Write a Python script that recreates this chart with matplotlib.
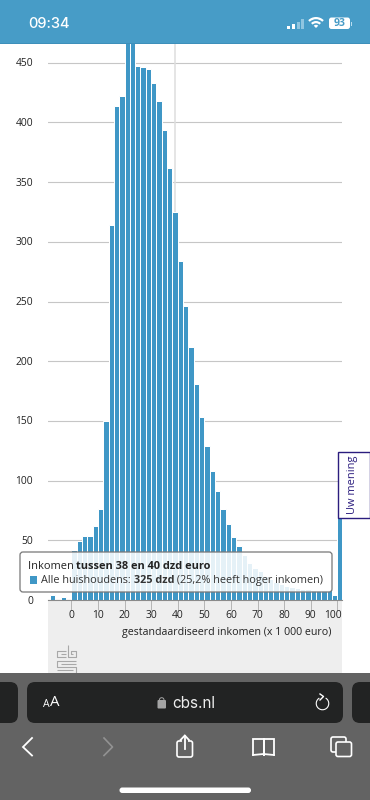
import matplotlib
matplotlib.use('Agg')
import matplotlib.pyplot as plt
from matplotlib.patches import FancyBboxPatch, Rectangle, Wedge

plt.rcParams['font.family'] = ['Open Sans', 'DejaVu Sans']

bin_centers = [-7, -5, -3, -1, 1, 3, 5, 7, 9, 11, 13, 15, 17, 19, 21, 23, 25, 27, 29, 31, 33,
               35, 37, 39, 41, 43, 45, 47, 49, 51, 53, 55, 57, 59, 61, 63, 65, 67, 69, 71,
               73, 75, 77, 79, 81, 83, 85, 87, 89, 91, 93, 95, 97, 99, 101]
households = [4, 0, 2.5, 0, 42, 49, 54, 54, 62, 76, 150, 314, 414, 422, 480, 490, 447, 446, 445,
              433, 418, 394, 362, 325, 284, 246, 212, 181, 153, 129, 108, 91, 76, 64, 53, 45,
              38, 31, 27, 24, 20, 18, 15, 13, 12, 11, 10, 9, 9, 8, 8, 8, 8, 4, 90]
y_ticks = [0, 50, 100, 150, 200, 250, 300, 350, 400, 450]
x_ticks = [0, 10, 20, 30, 40, 50, 60, 70, 80, 90, 100]

W, H = 370, 800
BLUE = '#3f97c6'
DARK = '#222222'

fig = plt.figure(figsize=(3.7, 8), dpi=100, facecolor='white')

# chart axes, placed in screen pixels
left, right, top, bottom = 47.5, 342, 44, 600
ax = fig.add_axes([left / W, 1 - bottom / H, (right - left) / W, (bottom - top) / H])
ax.set_xlim((left - 71.3) / 2.66, (right - 71.3) / 2.66)
ax.set_ylim(0, (bottom - top) / 1.194)
ax.set_facecolor('white')
for s in ax.spines.values():
    s.set_visible(False)
ax.spines['bottom'].set_visible(True)
ax.spines['bottom'].set_color('#8a8a8a')
ax.spines['bottom'].set_linewidth(0.8)
ax.yaxis.grid(True, color='#c6c6c6', linewidth=0.8)
ax.set_axisbelow(True)
ax.axvline(39, color='#dedede', linewidth=1.1, zorder=1)
ax.bar(bin_centers, households, width=2, color=BLUE, edgecolor='white', linewidth=0.72, zorder=2)
ax.set_yticks(y_ticks)
ax.set_yticklabels([])
ax.set_xticks(x_ticks)
ax.set_xticklabels([])
ax.tick_params(axis='y', length=0)
ax.tick_params(axis='x', length=7, color='#b5b5b5', width=0.7, direction='out')

# everything around the chart is drawn in pixel coordinates
ui = fig.add_axes([0, 0, 1, 1], zorder=5)
ui.set_xlim(0, W)
ui.set_ylim(H, 0)
ui.axis('off')
ui.patch.set_alpha(0)

grey_band = fig.add_axes([left / W, 1 - 673 / H, (right - left) / W, 73 / H], zorder=-1)
grey_band.set_facecolor('#eeeeee')
grey_band.set_xticks([])
grey_band.set_yticks([])
for s in grey_band.spines.values():
    s.set_visible(False)


def rounded(x0, y0, x1, y1, r, **kw):
    p = FancyBboxPatch((x0 + r, y0 + r), x1 - x0 - 2 * r, y1 - y0 - 2 * r,
                       boxstyle='round,pad=%s,rounding_size=%s' % (r, r), **kw)
    ui.add_patch(p)
    return p


def runs(x, y, parts, size, color):
    # parts of one line in normal and bold, placed one after the other
    r = fig.canvas.get_renderer()
    for txt, weight in parts:
        t = ui.text(x, y, txt.replace(' ', '\u00a0'), fontsize=size, color=color, fontweight=weight,
                    va='center', ha='left', zorder=5)
        x += t.get_window_extent(r).width


for v in y_ticks:
    ui.text(33, bottom - v * 1.194 + 1, str(v), fontsize=7.4, color=DARK, ha='right', va='center')
for v in x_ticks:
    x = 71.3 + v * 2.66
    if v == 100:
        x = 333
    ui.text(x, 615, str(v), fontsize=7.4, color=DARK, ha='center', va='center')
ui.text(332, 632, 'gestandaardiseerd inkomen (x 1 000 euro)', fontsize=7.7, color=DARK, ha='right', va='center')

# tooltip
rounded(20, 552, 332, 592, 3, facecolor='white', alpha=0.87, edgecolor='none', zorder=3)
rounded(20, 552, 332, 592, 3, facecolor='none', edgecolor='#777777', linewidth=0.9, zorder=4)
runs(27.5, 566.5, [('Inkomen ', 'normal'), ('tussen 38 en 40 dzd euro', 'bold')], 7.95, '#222222')
ui.add_patch(Rectangle((29.5, 576), 7.5, 7.5, facecolor=BLUE, edgecolor='none', zorder=5))
runs(41, 580.5, [('Alle huishoudens: ', 'normal'), ('325 dzd', 'bold'), (' (25,2% heeft hoger inkomen)', 'normal')], 7.85, '#333333')

# opinion tab
ui.add_patch(Rectangle((337.5, 452), 32, 65.5, facecolor='white', edgecolor='#2b1d7e', linewidth=1))
ui.text(353, 485, 'Uw mening', fontsize=7.9, color='#2b1d7e', rotation=90, ha='center', va='center')

# cbs logo
logo = '#a8a8a8'
for seg in [[(66, 650.8), (57.3, 650.8), (57.3, 656.5), (66, 656.5)],
            [(66, 653.6), (60.5, 653.6)],
            [(68.3, 645), (68.3, 656.5), (75.5, 656.5), (75.5, 650.8), (71.2, 650.8), (71.2, 653.6), (73, 653.6)],
            [(75.5, 660.5), (57.3, 660.5), (57.3, 666.5), (75.5, 666.5), (75.5, 672.5), (57.3, 672.5)],
            [(75.5, 663.5), (60.5, 663.5)],
            [(57.3, 669.5), (72.5, 669.5)]]:
    ui.plot([p[0] for p in seg], [p[1] for p in seg], color=logo, linewidth=0.8, solid_capstyle='butt')

# status bar
ui.add_patch(Rectangle((0, 0), W, 44, facecolor='#479cc7', edgecolor='none', zorder=6))
ui.add_patch(Rectangle((0, 42.8), W, 1.6, facecolor='#3d8fba', edgecolor='none', zorder=6))
ui.text(28.5, 23.5, '09:34', fontsize=10.5, family='Inter', color='white', fontweight='medium',
        ha='left', va='center', zorder=7)
for x, y0, col in [(287, 26, 'white'), (292, 24, 'white'), (296.5, 21.5, '#8fc5e0'), (301, 18.5, '#8fc5e0')]:
    ui.add_patch(Rectangle((x, y0), 3, 28.5 - y0, facecolor=col, edgecolor='none', zorder=7))
ui.add_patch(Wedge((316, 28), 11, 225, 315, width=2.2, facecolor='white', zorder=7))
ui.add_patch(Wedge((316, 28), 7, 225, 315, width=2.2, facecolor='white', zorder=7))
ui.add_patch(Wedge((316, 28), 3.2, 225, 315, facecolor='white', zorder=7))
rounded(329, 17.5, 350, 29, 2.5, facecolor='white', edgecolor='none', zorder=7)
ui.text(339.5, 23.5, '93', fontsize=7.5, color='#479cc7', fontweight='bold', ha='center', va='center', zorder=8)
ui.add_patch(Rectangle((351, 21.5), 1.2, 4, facecolor='#b9dcef', edgecolor='none', zorder=7))

# browser bar
ui.add_patch(Rectangle((0, 673), W, 127, facecolor='#636363', edgecolor='none', zorder=6))
rounded(27, 682, 343, 723, 8, facecolor='#222323', edgecolor='none', zorder=7)
rounded(-20, 682, 18, 723, 8, facecolor='#222323', edgecolor='none', zorder=7)
rounded(352, 682, 395, 723, 8, facecolor='#222323', edgecolor='none', zorder=7)
ui.text(46.5, 704.5, 'A', fontsize=7.6, color='white', ha='center', va='center', zorder=8)
ui.text(55, 703, 'A', fontsize=10.8, color='white', ha='center', va='center', zorder=8)
rounded(157.5, 700, 166, 708.5, 1, facecolor='#a5a5a5', edgecolor='none', zorder=8)
ui.add_patch(Wedge((161.7, 700), 2.8, 180, 360, width=1, facecolor='#a5a5a5', zorder=8))
ui.text(172, 703, 'cbs.nl', fontsize=11, family='Inter', color='#eeeeee', ha='left', va='center', zorder=8)
ui.add_patch(Wedge((322.5, 703.5), 6.8, 300, 600, width=1.1, facecolor='white', zorder=8))
ui.plot([320, 323.5, 320], [694, 696.5, 700], color='white', linewidth=1, zorder=8)

icon = dict(color='white', linewidth=1.3, zorder=8, solid_joinstyle='miter')
ui.plot([32, 23, 32], [738, 747, 755.5], **icon)
ui.plot([104, 112.5, 104], [738, 747, 755.5], color='#929292', linewidth=1.2, zorder=8)
rounded(177, 741, 192.5, 757, 2, facecolor='none', edgecolor='white', linewidth=1.2, zorder=8)
ui.add_patch(Rectangle((182, 738), 6, 5, facecolor='#636363', edgecolor='none', zorder=8))
ui.plot([184.8, 184.8], [736, 749], **icon)
ui.plot([180.5, 184.8, 189], [740, 735.5, 740], **icon)
ui.plot([253, 253, 263.5, 263.5], [755, 739, 739, 755], **icon)
ui.plot([263.5, 263.5, 274, 274], [755, 739, 739, 755], **icon)
ui.plot([253, 263.5, 274], [755, 754, 755], **icon)
rounded(331, 737, 346, 752, 2, facecolor='none', edgecolor='white', linewidth=1.2, zorder=8)
rounded(336, 742, 351.5, 756.5, 2, facecolor='#636363', edgecolor='white', linewidth=1.2, zorder=8)
rounded(119.5, 787.5, 251, 793, 2.7, facecolor='white', edgecolor='none', zorder=8)

fig.savefig('out.png', dpi=100)
